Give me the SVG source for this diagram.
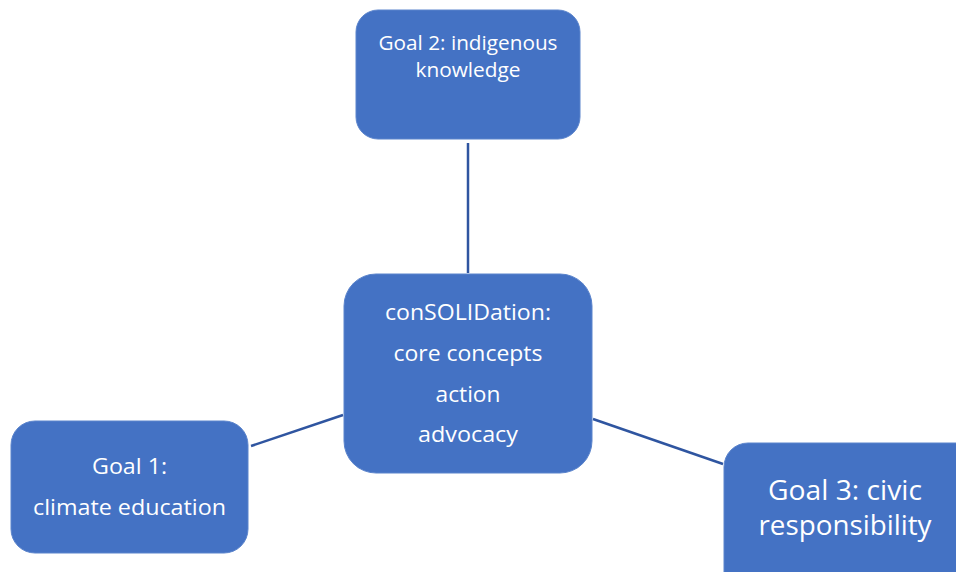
<svg xmlns="http://www.w3.org/2000/svg" width="956" height="572" viewBox="0 0 956 572">
<style>
.box{fill:#4472C4;stroke:#5B84CC;stroke-width:1}
.t{fill:#FFFFFF;font-family:"Open Sans","Liberation Sans",sans-serif;text-anchor:middle}
.c{stroke:#2F55A0;stroke-width:2.5;fill:none}
</style>
<rect width="956" height="572" fill="#FFFFFF"/>
<g id="connectors">
<line class="c" x1="468" y1="143" x2="468" y2="273"/>
<line class="c" x1="251" y1="446" x2="343" y2="415"/>
<line class="c" x1="593" y1="419" x2="723" y2="464"/>
</g>
<g id="goal2">
<rect class="box" x="356" y="10" width="224" height="129" rx="22"/>
<text class="t" x="468" y="50" font-size="19.5" textLength="179" lengthAdjust="spacingAndGlyphs">Goal 2: indigenous</text>
<text class="t" x="468" y="77" font-size="19.5" textLength="105" lengthAdjust="spacingAndGlyphs">knowledge</text>
</g>
<g id="center">
<rect class="box" x="344" y="274" width="248" height="199" rx="32"/>
<text class="t" x="468" y="320" font-size="21.5" textLength="166" lengthAdjust="spacingAndGlyphs">conSOLIDation:</text>
<text class="t" x="468" y="361" font-size="21.5" textLength="149" lengthAdjust="spacingAndGlyphs">core concepts</text>
<text class="t" x="468" y="402" font-size="21.5" textLength="65" lengthAdjust="spacingAndGlyphs">action</text>
<text class="t" x="468" y="442" font-size="21.5" textLength="100" lengthAdjust="spacingAndGlyphs">advocacy</text>
</g>
<g id="goal1">
<rect class="box" x="11" y="421" width="237" height="132" rx="24"/>
<text class="t" x="129.5" y="474" font-size="21.5" textLength="75" lengthAdjust="spacingAndGlyphs">Goal 1:</text>
<text class="t" x="129.5" y="515" font-size="21.5" textLength="193" lengthAdjust="spacingAndGlyphs">climate education</text>
</g>
<g id="goal3">
<rect class="box" x="724" y="443" width="260" height="160" rx="24"/>
<text class="t" x="845" y="500" font-size="26.5" textLength="154" lengthAdjust="spacingAndGlyphs">Goal 3: civic</text>
<text class="t" x="845" y="535" font-size="26.5" textLength="173" lengthAdjust="spacingAndGlyphs">responsibility</text>
</g>
</svg>
